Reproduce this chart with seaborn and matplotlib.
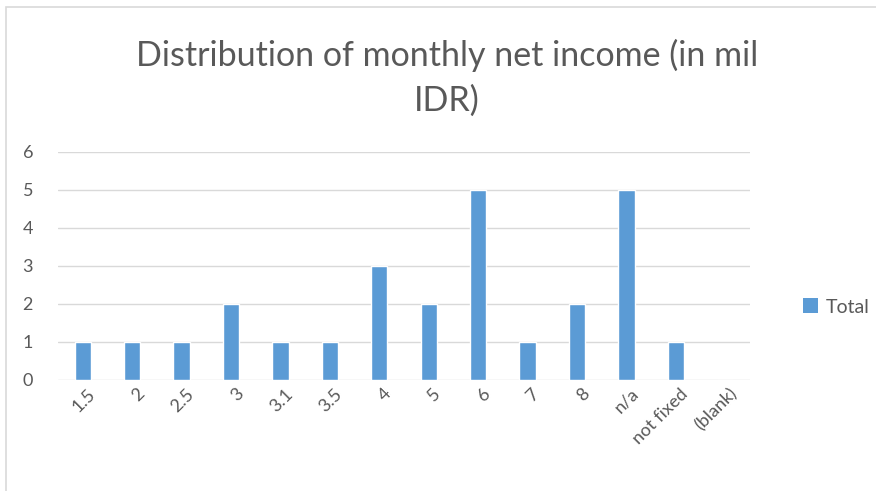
import matplotlib
matplotlib.use("Agg")
import matplotlib.pyplot as plt
import pandas as pd
import seaborn as sns
from matplotlib.patches import Rectangle, Patch

# Data
categories = ["1.5", "2", "2.5", "3", "3.1", "3.5", "4", "5", "6", "7", "8",
              "n/a", "not fixed", "(blank)"]
totals = [1, 1, 1, 2, 1, 1, 3, 2, 5, 1, 2, 5, 1, 0]
y_ticks = [0, 1, 2, 3, 4, 5, 6]

df = pd.DataFrame({"income": categories, "Total": totals})

sns.set_theme(style="white")
plt.rcParams['font.family'] = ['Lato', 'DejaVu Sans']

text_color = '#595959'
grid_color = '#d9d9d9'
bar_color = '#5B9BD5'

fig = plt.figure(figsize=(8.76, 4.91), dpi=100)
ax = fig.add_axes([58 / 876, 1 - 380 / 491, 692 / 876, 228 / 491])

sns.barplot(data=df, x="income", y="Total", color=bar_color, width=0.33,
            saturation=1, ax=ax)

ax.set_ylim(0, 6)
ax.set_yticks(y_ticks)
ax.set_xlim(-0.5, len(categories) - 0.5)
ax.yaxis.grid(True, color=grid_color, linewidth=1)
ax.set_axisbelow(True)
for s in ax.spines.values():
    s.set_visible(False)
ax.set_xlabel("")
ax.set_ylabel("")
ax.tick_params(axis='y', length=0, pad=18, labelsize=13, labelcolor=text_color)
ax.tick_params(axis='x', length=0, pad=4, labelsize=13, labelcolor=text_color)
ax.set_xticks(range(len(categories)))
ax.set_xticklabels(categories, rotation=45, ha='right', rotation_mode='anchor')
for lbl in ax.get_xticklabels():
    lbl.set_transform(lbl.get_transform() + matplotlib.transforms.ScaledTranslation(4 / 100, 0, fig.dpi_scale_trans))

# Title (wrapped like the original)
fig.text(447 / 876, 1 - 55 / 491, "Distribution of monthly net income (in mil",
         ha='center', va='center', fontsize=24.5, color=text_color)
fig.text(447 / 876, 1 - 101 / 491, "IDR)",
         ha='center', va='center', fontsize=24.5, color=text_color)

# Legend
handle = Patch(facecolor=bar_color, edgecolor='none')
fig.legend([handle], ["Total"], loc='center left',
           bbox_to_anchor=(785 / 876, 1 - 307 / 491), frameon=False,
           fontsize=14, labelcolor=text_color, handlelength=0.8,
           handleheight=0.8, handletextpad=0.4)

# Chart area border
fig.patches.append(Rectangle((6 / 876, -0.1), 1.2, 1 - 7 / 491 + 0.1,
                             transform=fig.transFigure, fill=False,
                             edgecolor=grid_color, linewidth=1.2))

plt.savefig("out.png", dpi=100)
plt.close()
print("Generated: out.png")
